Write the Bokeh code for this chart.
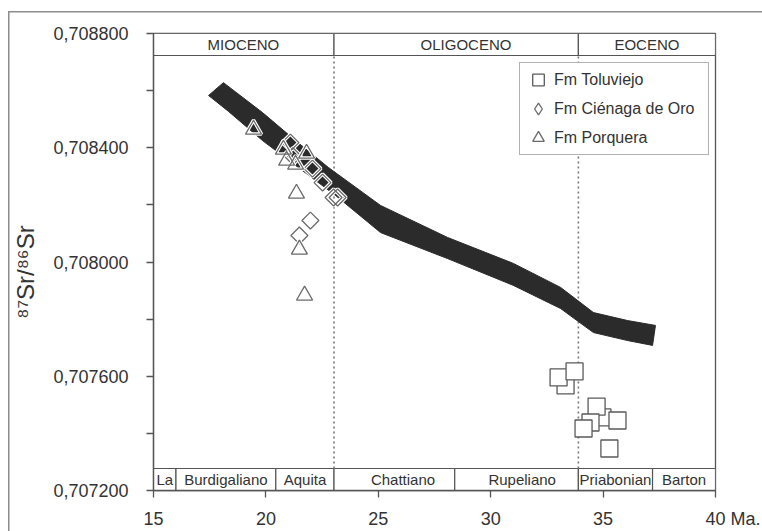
import math
from bokeh.plotting import figure
from bokeh.models import (Range1d, FixedTicker, Legend, LegendItem)
from bokeh.core.properties import value
from bokeh.embed import file_html
from bokeh.resources import INLINE

FONT = "Liberation Sans"

# ---------------- data ----------------
epoch_names = ["MIOCENO", "OLIGOCENO", "EOCENO"]
epoch_start = [15.0, 23.03, 33.9]
epoch_end = [23.03, 33.9, 40.0]
epoch_label_x = [19.0, 28.9, 36.95]

stage_names = ["La", "Burdigaliano", "Aquita", "Chattiano", "Rupeliano",
               "Priabonian", "Barton"]
stage_start = [15.0, 16.0, 20.44, 23.03, 28.4, 33.9, 37.2]
stage_end = [16.0, 20.44, 23.03, 28.4, 33.9, 37.2, 40.0]
stage_label_x = [15.5, 18.22, 21.74, 26.1, 31.4, 35.55, 38.6]

epoch_boundaries = [23.03, 33.9]

# seawater Sr curve envelope (upper and lower edges, left to right)
band_upper_age = [18.11, 19.85, 21.32, 22.78, 25.10, 28.08, 31.01, 33.11,
                  34.57, 36.09, 37.33]
band_upper_sr = [0.708628, 0.708523, 0.708425, 0.708331, 0.708198, 0.708086,
                 0.707995, 0.707911, 0.707823, 0.707795, 0.707778]
band_lower_age = [17.45, 18.34, 19.85, 21.32, 23.10, 25.10, 28.08, 31.01,
                  33.11, 34.57, 36.09, 37.20]
band_lower_sr = [0.708583, 0.708527, 0.708425, 0.708338, 0.708233, 0.708103,
                 0.708012, 0.707918, 0.707837, 0.707753, 0.707725, 0.707708]

toluviejo_age = [34.97, 33.33, 33.02, 33.73, 34.71, 34.44, 34.13, 35.64, 35.28]
toluviejo_sr = [0.707456, 0.707568, 0.707596, 0.707617, 0.707494, 0.707438,
                0.707417, 0.707445, 0.707347]

cienaga_age = [21.09, 21.20, 22.07, 22.52, 23.01, 23.19, 21.98, 21.49]
cienaga_sr = [0.708418, 0.708370, 0.708327, 0.708278, 0.708226, 0.708226,
              0.708145, 0.708093]

porquera_age = [19.45, 20.78, 21.81, 20.92, 21.32, 21.36, 21.49, 21.72]
porquera_sr = [0.708464, 0.708394, 0.708380, 0.708355, 0.708341, 0.708240,
               0.708044, 0.707883]

x_ticks = [15, 20, 25, 30, 35, 40]
x_tick_labels = ["15", "20", "25", "30", "35", "40 Ma."]
y_ticks = [0.7072, 0.7076, 0.7080, 0.7084, 0.7088]
y_tick_labels = ["0,707200", "0,707600", "0,708000", "0,708400", "0,708800"]
y_minor_ticks = [0.7074, 0.7078, 0.7082, 0.7086]
y_axis_label = "\u2078\u2077Sr/\u2078\u2076Sr"

# ---------------- layout constants ----------------
Y_MIN, Y_MAX = 0.7072, 0.7088
STAGE_TOP = 0.707277
EPOCH_BOTTOM = 0.708723
LINE = "#555555"
TEXT = "#333333"

p = figure(width=762, height=531, x_range=Range1d(15, 40),
           y_range=Range1d(Y_MIN, Y_MAX), output_backend="svg",
           toolbar_location=None, min_border_left=153, min_border_right=47,
           min_border_top=33, min_border_bottom=41)
p.grid.visible = False
p.background_fill_color = "white"
p.border_fill_alpha = 0
p.outline_line_color = LINE
p.outline_line_width = 1.3
p.styles = {
    "background": "linear-gradient(#8c8c8c,#8c8c8c) 8px 11px / 100% 1.5px no-repeat,"
                  " linear-gradient(#8c8c8c,#8c8c8c) 8px 11px / 1.5px 100% no-repeat,"
                  " white"
}

# axes
xa = p.xaxis[0]
xa.ticker = FixedTicker(ticks=x_ticks, minor_ticks=[])
# the unit sits to the right of the last tick value: pad the left side
xa.major_label_overrides = {
    t: (("\u00a0" * 7 + s) if i == len(x_ticks) - 1 else s)
    for i, (t, s) in enumerate(zip(x_ticks, x_tick_labels))
}
xa.major_tick_out = 7
xa.major_tick_in = 0
xa.minor_tick_out = 0
xa.major_label_standoff = 11
ya = p.yaxis[0]
ya.ticker = FixedTicker(ticks=y_ticks, minor_ticks=y_minor_ticks)
ya.major_label_overrides = dict(zip(y_ticks, y_tick_labels))
ya.major_tick_out = 7
ya.major_tick_in = 0
ya.minor_tick_out = 7
ya.minor_tick_in = 0
ya.major_label_standoff = 18
# trailing no-break spaces nudge the visible label slightly down the axis
ya.axis_label = y_axis_label + "\u00a0" * 3
ya.axis_label_text_font = FONT
ya.axis_label_text_font_size = "24px"
ya.axis_label_text_font_style = "normal"
ya.axis_label_text_color = TEXT
ya.axis_label_standoff = 11
for ax in (xa, ya):
    ax.axis_line_color = LINE
    ax.axis_line_width = 1.3
    ax.major_tick_line_color = LINE
    ax.major_tick_line_width = 1.3
    ax.minor_tick_line_color = LINE
    ax.minor_tick_line_width = 1.3
    ax.major_label_text_font = FONT
    ax.major_label_text_font_size = "18px"
    ax.major_label_text_color = TEXT

# stage / epoch boxes
p.quad(left=epoch_start, right=epoch_end, bottom=EPOCH_BOTTOM, top=Y_MAX,
       fill_color="white", line_color=LINE, line_width=1.2)
p.quad(left=stage_start, right=stage_end, bottom=Y_MIN, top=STAGE_TOP,
       fill_color="white", line_color=LINE, line_width=1.2)
p.text(x=epoch_label_x, y=[(EPOCH_BOTTOM + Y_MAX) / 2] * len(epoch_names),
       text=epoch_names, text_align="center", text_baseline="middle",
       text_font=value(FONT), text_font_size="15px", text_color=TEXT)
p.text(x=stage_label_x, y=[(Y_MIN + STAGE_TOP) / 2] * len(stage_names),
       text=stage_names, text_align="center", text_baseline="middle",
       text_font=value(FONT), text_font_size="15px", text_color=TEXT)

# dotted epoch boundaries
p.segment(x0=epoch_boundaries, y0=STAGE_TOP, x1=epoch_boundaries,
          y1=EPOCH_BOTTOM, line_color="#777777", line_width=1.6,
          line_dash="2 3")

# seawater curve band
p.patch(x=band_upper_age + band_lower_age[::-1],
        y=band_upper_sr + band_lower_sr[::-1],
        fill_color="#2b2b2b", line_color="#2b2b2b", line_width=1)

# samples
r_tol = p.scatter(toluviejo_age, toluviejo_sr, marker="square", size=17,
                  fill_color="white", line_color="#5a5a5a", line_width=1.3)
p.scatter(cienaga_age, cienaga_sr, marker="square", angle=math.pi / 4,
          size=12, fill_color=None, line_color="white", line_width=3.5)
p.scatter(cienaga_age, cienaga_sr, marker="square", angle=math.pi / 4,
          size=12, fill_color=None, line_color="#6a6a6a", line_width=1.3)
p.scatter(porquera_age, porquera_sr, marker="triangle", size=16,
          fill_color=None, line_color="white", line_width=3.5)
r_por = p.scatter(porquera_age, porquera_sr, marker="triangle", size=16,
                  fill_color=None, line_color="#6a6a6a", line_width=1.3)
# hidden twin of the diamonds, used only for the legend symbol
# (legend icons are drawn unrotated, so the rotated square would show as a square)
r_cie_leg = p.scatter(cienaga_age, cienaga_sr, marker="diamond", size=14,
                      fill_color=None, line_color="#6a6a6a", line_width=1.3,
                      visible=False)

legend = Legend(items=[LegendItem(label="Fm Toluviejo", renderers=[r_tol]),
                       LegendItem(label="Fm Ciénaga de Oro", renderers=[r_cie_leg]),
                       LegendItem(label="Fm Porquera", renderers=[r_por])],
                location=(366, 335), orientation="vertical",
                glyph_width=32, glyph_height=29, spacing=0, padding=2,
                margin=0, label_standoff=0, label_width=152,
                label_text_font=FONT, label_text_font_size="16px",
                label_text_color=TEXT, border_line_color="#666666",
                border_line_width=1.2, background_fill_color="white",
                background_fill_alpha=1, inactive_fill_alpha=0)
p.add_layout(legend)

open("out.html", "w").write(file_html(p, INLINE))
